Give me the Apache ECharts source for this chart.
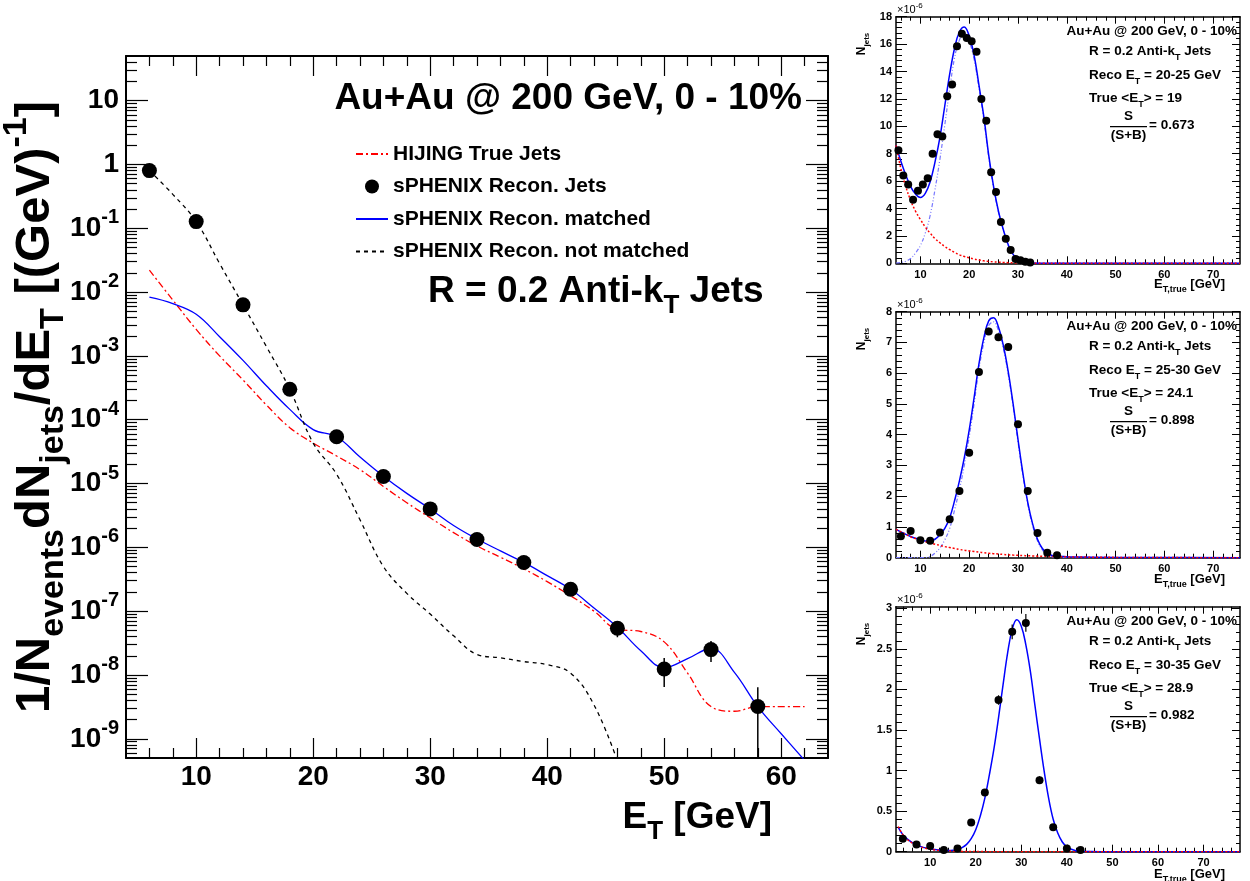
<!DOCTYPE html>
<html><head><meta charset="utf-8">
<script src="https://cdn.jsdelivr.net/npm/echarts@6/dist/echarts.min.js"></script>
<style>html,body{margin:0;padding:0;background:#fff}#c{width:1250px;height:881px}</style>
</head><body><div id="c"></div>
<script>
const FONT = '"Liberation Sans", Arial, Helvetica, sans-serif';

// ---------------- Main panel data ----------------
const mainPointX = [6,10,14,18,22,26,30,34,38,42,46,50,54,58];
const mainPointY = [0.80,0.127,6.3e-3,3.0e-4,5.4e-5,1.29e-5,4.0e-6,1.33e-6,5.8e-7,2.2e-7,5.4e-8,1.24e-8,2.5e-8,3.2e-9];
const mainErrX = [46,50,54,58];
const mainErrLow = [3.9e-8,6.5e-9,1.6e-8,5.0e-10];
const mainErrHigh = [6.6e-8,1.85e-8,3.4e-8,6.4e-9];
const mainCurveX = [6,8,10,12,14,16,18,20,22,24,26,28,30,32,34,36,38,40,42,44,46,48,50,52,54,56,58,60,62];
const hijingY = [2.2e-2,7.5e-3,2.6e-3,1.0e-3,4.2e-4,1.7e-4,7.5e-5,4.3e-5,2.7e-5,1.65e-5,9.0e-6,5.0e-6,2.9e-6,1.7e-6,1.05e-6,7.0e-7,4.6e-7,2.9e-7,1.74e-7,1.0e-7,5.2e-8,4.8e-8,3.3e-8,1.07e-8,3.2e-9,2.7e-9,3.2e-9,3.2e-9,3.2e-9];
const matchedY = [8.3e-3,6.6e-3,4.5e-3,2.0e-3,8.5e-4,3.4e-4,1.45e-4,7.0e-5,5.4e-5,2.6e-5,1.3e-5,7.0e-6,4.0e-6,2.2e-6,1.35e-6,8.8e-7,5.8e-7,3.6e-7,2.2e-7,1.12e-7,5.6e-8,2.4e-8,1.3e-8,1.8e-8,2.6e-8,1.1e-8,3.2e-9,1.2e-9,4.6e-10];
const notMatchedX = [6,8,10,12,14,16,18,20,22,24,26,28,30,32,34,36,38,40,42,44,46];
const notMatchedY = [0.80,0.34,0.127,2.8e-2,6.3e-3,1.4e-3,3.0e-4,4.3e-5,1.4e-5,2.7e-6,5.0e-7,1.9e-7,9.0e-8,4.1e-8,2.1e-8,1.86e-8,1.62e-8,1.45e-8,1.07e-8,3.4e-9,4.5e-10];
const mainXTicks = [10,20,30,40,50,60];
const mainYTicks = [1e-9,1e-8,1e-7,1e-6,1e-5,1e-4,1e-3,1e-2,1e-1,1,10];

// ---------------- Panel 1 (Reco ET 20-25 GeV) ----------------
const p1DotX = [5.5,6.5,7.5,8.5,9.5,10.5,11.5,12.5,13.5,14.5,15.5,16.5,17.5,18.5,19.5,20.5,21.5,22.5,23.5,24.5,25.5,26.5,27.5,28.5,29.5,30.5,31.5,32.5];
const p1DotY = [8.25,6.4,5.75,4.63,5.3,5.75,6.2,8.0,9.42,9.25,12.2,13.05,15.85,16.75,16.45,16.2,15.45,12.0,10.4,6.65,5.2,3.02,1.8,0.97,0.31,0.22,0.12,0.06];
const p1CurveX = [5,6,7,8,9,10,11,12,13,14,15,16,17,18,19,20,21,22,23,24,25,26,27,28,29,30,31,32,33,34,35,40,50,60,70,75.5];
const p1Total = [8.6,7.45,6.45,5.6,5.05,4.8,5.1,5.95,7.4,9.2,11.5,13.8,15.7,16.9,17.25,16.6,15.2,13.0,10.7,7.9,5.6,3.8,2.45,1.35,0.65,0.27,0.11,0.04,0.015,0.008,0.006,0.002,0,0,0,0];
const p1Bkg = [8.6,6.9,5.6,4.6,3.8,3.2,2.65,2.2,1.8,1.5,1.22,1.0,0.8,0.62,0.5,0.4,0.31,0.24,0.18,0.14,0.1,0.08,0.06,0.045,0.035,0.025,0.02,0.015,0.01,0.008,0.006,0.002,0,0,0,0];
const p1Sig = [0.02,0.06,0.15,0.35,0.75,1.3,2.2,3.5,5.4,7.6,10.1,12.7,15.0,16.3,16.8,16.2,14.9,12.8,10.5,7.75,5.5,3.72,2.39,1.3,0.62,0.25,0.09,0.03,0.01,0,0,0,0,0,0,0];
const p1YTicks = [0,2,4,6,8,10,12,14,16,18];

// ---------------- Panel 2 (Reco ET 25-30 GeV) ----------------
const p2DotX = [6,8,10,12,14,16,18,20,22,24,26,28,30,32,34,36,38];
const p2DotY = [0.70,0.87,0.57,0.55,0.82,1.25,2.17,3.41,6.04,7.36,7.17,6.85,4.34,2.17,0.80,0.16,0.08];
const p2ErrX = [22,24,26,28,30];
const p2ErrLow = [5.94,7.24,7.05,6.73,4.24];
const p2ErrHigh = [6.14,7.48,7.29,6.97,4.44];
const p2CurveX = [5,6,7,8,9,10,11,12,13,14,15,16,17,18,19,20,21,22,23,24,25,26,27,28,29,30,31,32,33,34,35,36,37,38,39,40,50,60,75.5];
const p2Total = [0.92,0.84,0.76,0.69,0.63,0.58,0.54,0.55,0.6,0.74,0.95,1.3,1.85,2.5,3.25,4.15,5.2,6.3,7.15,7.7,7.8,7.5,6.9,6.05,5.0,3.85,2.75,1.8,1.1,0.6,0.3,0.15,0.07,0.05,0.04,0.03,0.01,0.004,0.001];
const p2Bkg = [0.92,0.84,0.76,0.68,0.62,0.57,0.52,0.48,0.44,0.40,0.36,0.33,0.30,0.27,0.24,0.22,0.2,0.18,0.16,0.145,0.13,0.12,0.105,0.095,0.085,0.077,0.07,0.063,0.057,0.051,0.046,0.041,0.037,0.033,0.03,0.027,0.01,0.004,0.001];
const p2Sig = [0,0,0,0,0,0,0,0.04,0.15,0.32,0.58,0.95,1.55,2.22,3.0,3.93,5.0,6.12,6.99,7.55,7.67,7.38,6.8,5.96,4.92,3.77,2.68,1.74,1.04,0.55,0.25,0.11,0.03,0,0,0,0,0,0];
const p2YTicks = [0,1,2,3,4,5,6,7,8];

// ---------------- Panel 3 (Reco ET 30-35 GeV) ----------------
const p3DotX = [4,7,10,13,16,19,22,25,28,31,34,37,40,43];
const p3DotY = [0.16,0.09,0.07,0.02,0.04,0.36,0.73,1.87,2.71,2.82,0.88,0.30,0.04,0.02];
const p3ErrX = [25,28,31,34];
const p3ErrLow = [1.81,2.62,2.71,0.84];
const p3ErrHigh = [1.93,2.80,2.93,0.93];
const p3CurveX = [3,4,5,6,7,8,9,10,11,12,13,14,15,16,17,18,19,20,21,22,23,24,25,26,27,28,29,30,31,32,33,34,35,36,37,38,39,40,41,42,43,44,45,50,60,78];
const p3Total = [0.30,0.21,0.155,0.115,0.085,0.063,0.047,0.035,0.026,0.02,0.016,0.015,0.018,0.028,0.05,0.09,0.16,0.27,0.44,0.66,0.95,1.27,1.65,2.06,2.45,2.74,2.86,2.78,2.55,2.22,1.8,1.39,1.0,0.66,0.4,0.23,0.12,0.06,0.03,0.013,0.006,0.002,0.001,0,0,0];
const p3Bkg = [0.31,0.21,0.15,0.11,0.08,0.058,0.042,0.03,0.022,0.016,0.012,0.009,0.007,0.005,0.004,0.003,0.002,0.0015,0.001,0.001,0,0,0,0,0,0,0,0,0,0,0,0,0,0,0,0,0,0,0,0,0,0,0,0,0,0];
const p3YTicks = [0,0.5,1,1.5,2,2.5,3];

const panelXTicks = [10,20,30,40,50,60,70];
const panelText = [
  {reco: '20-25', trueEt: '19', ratio: '0.673'},
  {reco: '25-30', trueEt: '24.1', ratio: '0.898'},
  {reco: '30-35', trueEt: '28.9', ratio: '0.982'}
];

// ---------------- helpers ----------------
const zip = (xs, ys) => xs.map((x, i) => [x, ys[i]]);
function richSet(size) {
  const s = Math.round(size * 0.7);
  return {
    n: {fontSize: size, fontWeight: 'bold', fontFamily: FONT, color: '#000', lineHeight: Math.round(size * 1.45), verticalAlign: 'middle'},
    sub: {fontSize: s, fontWeight: 'bold', fontFamily: FONT, color: '#000', lineHeight: s, verticalAlign: 'bottom'},
    sup: {fontSize: s, fontWeight: 'bold', fontFamily: FONT, color: '#000', lineHeight: s, verticalAlign: 'top'},
    r: {fontSize: size, fontWeight: 'normal', fontFamily: FONT, color: '#222', lineHeight: Math.round(size * 1.45), verticalAlign: 'middle'},
    rs: {fontSize: s, fontWeight: 'normal', fontFamily: FONT, color: '#222', lineHeight: s, verticalAlign: 'top'}
  };
}
function minorLinear(min, max, step, majors) {
  const out = [];
  const n = Math.round((max - min) / step);
  for (let i = 0; i <= n; i++) {
    const v = +(min + i * step).toFixed(6);
    if (v > min && v < max && !majors.some(m => Math.abs(m - v) < 1e-9)) out.push(v);
  }
  return out;
}
function minorLog(minV, maxV) {
  const out = [];
  for (let e = -10; e <= 2; e++) for (let k = 2; k <= 9; k++) {
    const v = k * Math.pow(10, e);
    if (v > minV && v < maxV) out.push(v);
  }
  return out;
}
function axis(type, grid, pos, min, max, ticks, len, o) {
  o = o || {};
  const a = {
    type, gridIndex: grid, position: pos, min, max,
    axisLine: {show: !!o.line, onZero: false, lineStyle: {color: '#000', width: o.lw || 1.5}},
    axisTick: {show: true, inside: true, length: len, customValues: ticks, lineStyle: {color: '#000', width: o.tw || 1}},
    axisLabel: o.label ? Object.assign({show: true, customValues: ticks}, o.label) : {show: false},
    splitLine: {show: false}, minorTick: {show: false}, axisPointer: {show: false}
  };
  if (type === 'log') a.logBase = 10;
  return Object.assign(a, o.extra || {});
}

// ---------------- axes ----------------
const xAxes = [], yAxes = [];
const mainXMinor = minorLinear(4, 64, 2, mainXTicks);
const mainYMinor = minorLog(5e-10, 50);
const mainXLabel = {margin: 5, fontSize: 28, fontWeight: 'bold', fontFamily: FONT, color: '#000'};
const mainYLabel = {margin: 7, formatter: v => {
  const e = Math.round(Math.log10(v));
  if (e === 1) return '{n|10}';
  if (e === 0) return '{n|1}';
  return '{n|10}{sup|' + e + '}';
}, rich: richSet(28)};
xAxes.push(axis('value', 0, 'bottom', 4, 64, mainXTicks, 20, {line: true, lw: 2, tw: 1.2, label: mainXLabel}));
xAxes.push(axis('value', 0, 'bottom', 4, 64, mainXMinor, 10, {tw: 1.2}));
xAxes.push(axis('value', 0, 'top', 4, 64, mainXTicks, 20, {line: true, lw: 2, tw: 1.2}));
xAxes.push(axis('value', 0, 'top', 4, 64, mainXMinor, 10, {tw: 1.2}));
yAxes.push(axis('log', 0, 'left', 5e-10, 50, mainYTicks, 22, {line: true, lw: 2, tw: 1.2, label: mainYLabel, extra: {
  name: '{n|1/N}{sub|events}{n|dN}{sub|jets}{n|/dE}{sub|T}{n| [(GeV)}{sup|-1}{n|]}',
  nameLocation: 'middle', nameRotate: 90, nameGap: 55, nameMoveOverlap: false, nameTextStyle: {rich: richSet(49)}
}}));
yAxes.push(axis('log', 0, 'left', 5e-10, 50, mainYMinor, 11, {tw: 1.2}));
yAxes.push(axis('log', 0, 'right', 5e-10, 50, mainYTicks, 22, {line: true, lw: 2, tw: 1.2}));
yAxes.push(axis('log', 0, 'right', 5e-10, 50, mainYMinor, 11, {tw: 1.2}));

const panelDefs = [
  {top: 16.7, height: 246.6, xmin: 5, xmax: 75.5, ymax: 18, yTicks: p1YTicks, yStep: 0.4},
  {top: 311.7, height: 246, xmin: 5, xmax: 75.5, ymax: 8, yTicks: p2YTicks, yStep: 0.2},
  {top: 606.7, height: 245, xmin: 2.5, xmax: 78, ymax: 3.02, yTicks: p3YTicks, yStep: 0.1}
];
const panelLabel = {fontSize: 11, fontWeight: 'bold', fontFamily: FONT, color: '#000'};
panelDefs.forEach((p, k) => {
  const g = k + 1;
  const xMinor = minorLinear(0, 80, 2, panelXTicks).filter(v => v > p.xmin && v < p.xmax);
  const yMinor = minorLinear(0, p.ymax, p.yStep, p.yTicks);
  xAxes.push(axis('value', g, 'bottom', p.xmin, p.xmax, panelXTicks, 7, {line: true, label: Object.assign({margin: 6}, panelLabel)}));
  xAxes.push(axis('value', g, 'bottom', p.xmin, p.xmax, xMinor, 4, {}));
  xAxes.push(axis('value', g, 'top', p.xmin, p.xmax, panelXTicks, 7, {line: true}));
  xAxes.push(axis('value', g, 'top', p.xmin, p.xmax, xMinor, 4, {}));
  yAxes.push(axis('value', g, 'left', 0, p.ymax, p.yTicks, 11, {line: true, label: Object.assign({margin: 4}, panelLabel)}));
  yAxes.push(axis('value', g, 'left', 0, p.ymax, yMinor, 6, {}));
  yAxes.push(axis('value', g, 'right', 0, p.ymax, p.yTicks, 8, {line: true}));
  yAxes.push(axis('value', g, 'right', 0, p.ymax, yMinor, 4, {}));
});

const grids = [{left: 126, top: 56, width: 702, height: 702, outerBoundsMode: 'none', containLabel: false}]
  .concat(panelDefs.map(p => ({left: 896, top: p.top, width: 344, height: p.height, outerBoundsMode: 'none', containLabel: false})));

// ---------------- series ----------------
function errSeries(g, xs, lo, hi, w) {
  return {
    type: 'custom', xAxisIndex: 4 * g, yAxisIndex: 4 * g, silent: true, z: 4, clip: true,
    encode: {x: 0, y: [1, 2]},
    data: xs.map((x, i) => [x, lo[i], hi[i]]),
    renderItem: (params, api) => {
      const a = api.coord([api.value(0), api.value(1)]);
      const b = api.coord([api.value(0), api.value(2)]);
      return {type: 'line', shape: {x1: a[0], y1: a[1], x2: b[0], y2: b[1]}, style: {stroke: '#000', lineWidth: w}};
    }
  };
}
const SM = 0.4;
const series = [
  {name: 'HIJING True Jets', type: 'line', xAxisIndex: 0, yAxisIndex: 0, data: zip(mainCurveX, hijingY), smooth: SM,
   symbol: 'none', lineStyle: {color: '#ff0000', width: 1.3, type: [7, 3, 2, 3]}, itemStyle: {color: '#ff0000'}, z: 2},
  {name: 'sPHENIX Recon. Jets', type: 'scatter', xAxisIndex: 0, yAxisIndex: 0, data: zip(mainPointX, mainPointY), symbol: 'circle', symbolSize: 15,
   itemStyle: {color: '#000', opacity: 1}, z: 6},
  {name: 'sPHENIX Recon. matched', type: 'line', xAxisIndex: 0, yAxisIndex: 0, data: zip(mainCurveX, matchedY), smooth: SM,
   symbol: 'none', lineStyle: {color: '#0000ff', width: 1.3}, itemStyle: {color: '#0000ff'}, z: 3},
  {name: 'sPHENIX Recon. not matched', type: 'line', xAxisIndex: 0, yAxisIndex: 0, data: zip(notMatchedX, notMatchedY), smooth: SM,
   symbol: 'none', lineStyle: {color: '#000', width: 1.3, type: [4, 4]}, itemStyle: {color: '#000'}, z: 3},
  errSeries(0, mainErrX, mainErrLow, mainErrHigh, 1.5)
];
const panelSeries = [
  {x: p1CurveX, tot: p1Total, bkg: p1Bkg, sig: p1Sig, dx: p1DotX, dy: p1DotY},
  {x: p2CurveX, tot: p2Total, bkg: p2Bkg, sig: p2Sig, dx: p2DotX, dy: p2DotY, ex: p2ErrX, el: p2ErrLow, eh: p2ErrHigh},
  {x: p3CurveX, tot: p3Total, bkg: p3Bkg, sig: null, dx: p3DotX, dy: p3DotY, ex: p3ErrX, el: p3ErrLow, eh: p3ErrHigh}
];
panelSeries.forEach((d, k) => {
  const g = k + 1, xi = 4 * g, yi = 4 * g;
  if (d.sig) series.push({type: 'line', xAxisIndex: xi, yAxisIndex: yi, data: zip(d.x, d.sig), smooth: SM, symbol: 'none',
    lineStyle: {color: '#7878ff', width: 1.2, type: [4, 2, 1, 2, 1, 2]}, z: 2, silent: true});
  series.push({type: 'line', xAxisIndex: xi, yAxisIndex: yi, data: zip(d.x, d.tot), smooth: SM, symbol: 'none',
    lineStyle: {color: '#0000ff', width: 1.5}, z: 3, silent: true});
  series.push({type: 'line', xAxisIndex: xi, yAxisIndex: yi, data: zip(d.x, d.bkg), smooth: SM, symbol: 'none',
    lineStyle: {color: '#ff0000', width: 1.5, type: [2, 2]}, z: 4, silent: true});
  if (d.ex) series.push(errSeries(g, d.ex, d.el, d.eh, 1.2));
  series.push({type: 'scatter', xAxisIndex: xi, yAxisIndex: yi, data: zip(d.dx, d.dy), symbol: 'circle', symbolSize: 8,
    itemStyle: {color: '#000', opacity: 1}, z: 6, silent: true});
});

// ---------------- text (graphic) ----------------
function gtext(x, y, text, size, align, extra) {
  return Object.assign({type: 'text', x, y, silent: true, z: 100,
    style: {text, align, verticalAlign: 'middle', rich: richSet(size), fill: '#000', font: 'bold ' + size + 'px ' + FONT}}, extra || {});
}
const graphics = [
  gtext(802, 99, '{n|Au+Au @ 200 GeV, 0 - 10%}', 37, 'right'),
  gtext(428, 292, '{n|R = 0.2 Anti-k}{sub|T}{n| Jets}', 37, 'left'),
  gtext(772, 818, '{n|E}{sub|T}{n| [GeV]}', 37, 'right')
];
panelDefs.forEach((p, k) => {
  const T = p.top, t = panelText[k];
  graphics.push(gtext(897, T - 7, '{r|\u00d710}{rs|-6}', 11, 'left'));
  graphics.push(gtext(1237, T + 15, '{n|Au+Au @ 200 GeV, 0 - 10%}', 13.5, 'right'));
  graphics.push(gtext(1089, T + 35, '{n|R = 0.2 Anti-k}{sub|T}{n| Jets}', 13.5, 'left'));
  graphics.push(gtext(1089, T + 59, '{n|Reco E}{sub|T}{n| = ' + t.reco + ' GeV}', 13.5, 'left'));
  graphics.push(gtext(1089, T + 82, '{n|True <E}{sub|T}{n|> = ' + t.trueEt + '}', 13.5, 'left'));
  graphics.push(gtext(1128.5, T + 100, '{n|S}', 13.5, 'center'));
  graphics.push({type: 'line', silent: true, z: 100, shape: {x1: 1110, y1: T + 110, x2: 1147, y2: T + 110}, style: {stroke: '#000', lineWidth: 1.3}});
  graphics.push(gtext(1128.5, T + 118.5, '{n|(S+B)}', 13.5, 'center'));
  graphics.push(gtext(1149, T + 108.5, '{n|= ' + t.ratio + '}', 13.5, 'left'));
  graphics.push(gtext(862, T + 16, '{n|N}{sub|jets}', 12, 'right', {rotation: Math.PI / 2}));
  graphics.push(gtext(1225, T + 268, '{n|E}{sub|T,true}{n| [GeV]}', 13, 'right'));
});

const noSym = {opacity: 0};
const chart = echarts.init(document.getElementById('c'), null, {renderer: 'canvas'});
chart.setOption({
  animation: false,
  backgroundColor: '#fff',
  grid: grids,
  xAxis: xAxes,
  yAxis: yAxes,
  legend: {
    left: 350, top: 137, orient: 'vertical', itemWidth: 32, itemHeight: 14, itemGap: 8.5, selectedMode: false,
    data: [
      {name: 'HIJING True Jets', itemStyle: noSym},
      {name: 'sPHENIX Recon. Jets'},
      {name: 'sPHENIX Recon. matched', itemStyle: noSym},
      {name: 'sPHENIX Recon. not matched', itemStyle: noSym}
    ],
    textStyle: {fontSize: 21, fontWeight: 'bold', fontFamily: FONT, color: '#000', lineHeight: 24}
  },
  graphic: graphics,
  series
});
</script></body></html>
